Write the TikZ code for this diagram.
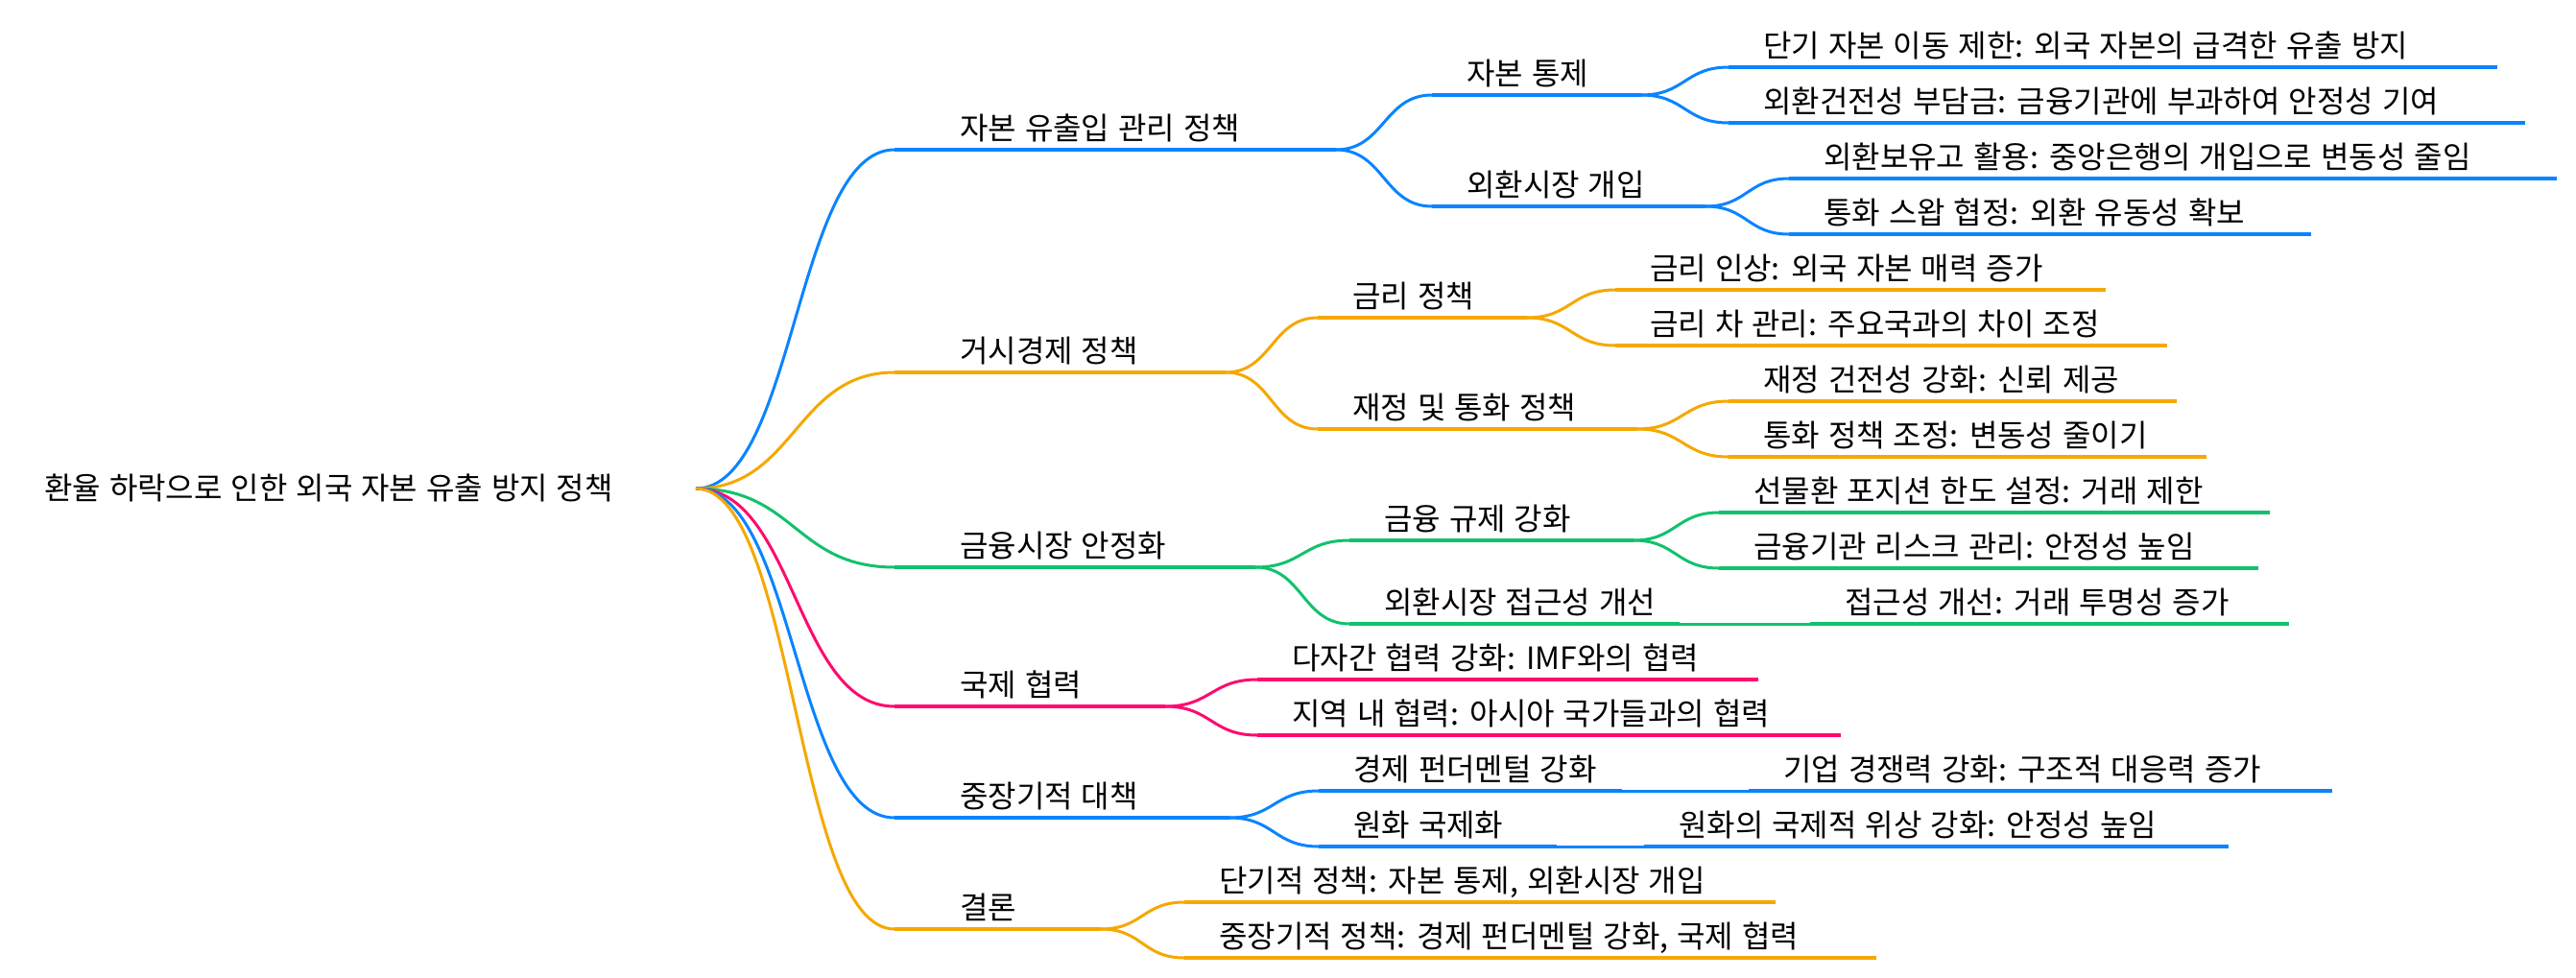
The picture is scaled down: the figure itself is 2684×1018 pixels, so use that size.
\documentclass[tikz,border=0pt]{standalone}
\usepackage{fontspec}
\setmainfont[WordSpace=1.25]{Noto Sans CJK KR}
\usetikzlibrary{calc}
\definecolor{cblue}{HTML}{0A84FF}
\definecolor{corange}{HTML}{F5A800}
\definecolor{cgreen}{HTML}{12C16D}
\definecolor{cpink}{HTML}{FF0A6E}
\tikzset{
  lbl/.style={anchor=base west, inner sep=0pt, font=\fontsize{32}{38}\selectfont, text=black},
  ul/.style={line width=3.2pt},
  lnk/.style={line width=3.0pt},
}
\newcommand\mmnode[7]{%
  \coordinate (#1-s) at (#3,#6);
  \coordinate (#1-e) at (#5,#6);
  \node[lbl] (#1) at (#4,#6-11) {#7};
  \draw[ul,#2] (#1-s) -- (#1-e);
}
\newcommand\mmlink[3]{%
  \draw[lnk,#1] let \p1=(#2-e), \p2=(#3-s) in (\p1) .. controls ({(\x1+\x2)/2},\y1) and ({(\x1+\x2)/2},\y2) .. (\p2);
}
\begin{document}
\begin{tikzpicture}[x=1pt,y=-1pt]
\useasboundingbox (0,0) rectangle (2684,1018);
\fill[white] (0,0) rectangle (2684,1018);
% root
\node[lbl] (root) at (46,520) {환율 하락으로 인한 외국 자본 유출 방지 정책};
\coordinate (root-e) at (725,509);
% A
\mmnode{a}{cblue}{932}{1000}{1392}{156}{자본 유출입 관리 정책}
\mmnode{a1}{cblue}{1492}{1528}{1710}{99}{자본 통제}
\mmnode{a2}{cblue}{1492}{1528}{1777}{215}{외환시장 개입}
\mmnode{a11}{cblue}{1801}{1837}{2602}{70}{단기 자본 이동 제한: 외국 자본의 급격한 유출 방지}
\mmnode{a12}{cblue}{1801}{1837}{2631}{128}{외환건전성 부담금: 금융기관에 부과하여 안정성 기여}
\mmnode{a21}{cblue}{1864}{1900}{2664}{186}{외환보유고 활용: 중앙은행의 개입으로 변동성 줄임}
\mmnode{a22}{cblue}{1864}{1900}{2408}{244}{통화 스왑 협정: 외환 유동성 확보}
% B
\mmnode{b}{corange}{932}{1000}{1277}{388}{거시경제 정책}
\mmnode{b1}{corange}{1373}{1409}{1591}{331}{금리 정책}
\mmnode{b2}{corange}{1373}{1409}{1706}{447}{재정 및 통화 정책}
\mmnode{b11}{corange}{1683}{1719}{2194}{302}{금리 인상: 외국 자본 매력 증가}
\mmnode{b12}{corange}{1683}{1719}{2258}{360}{금리 차 관리: 주요국과의 차이 조정}
\mmnode{b21}{corange}{1801}{1837}{2268}{418}{재정 건전성 강화: 신뢰 제공}
\mmnode{b22}{corange}{1801}{1837}{2299}{476}{통화 정책 조정: 변동성 줄이기}
% C
\mmnode{c}{cgreen}{932}{1000}{1308}{591}{금융시장 안정화}
\mmnode{c1}{cgreen}{1406}{1442}{1702}{563}{금융 규제 강화}
\mmnode{c2}{cgreen}{1406}{1442}{1750}{650}{외환시장 접근성 개선}
\mmnode{c11}{cgreen}{1791}{1827}{2365}{534}{선물환 포지션 한도 설정: 거래 제한}
\mmnode{c12}{cgreen}{1791}{1827}{2353}{592}{금융기관 리스크 관리: 안정성 높임}
\mmnode{c21}{cgreen}{1886}{1922}{2385}{650}{접근성 개선: 거래 투명성 증가}
% D
\mmnode{d}{cpink}{932}{1000}{1214}{736}{국제 협력}
\mmnode{d1}{cpink}{1310}{1346}{1832}{708}{다자간 협력 강화: IMF와의 협력}
\mmnode{d2}{cpink}{1310}{1346}{1918}{766}{지역 내 협력: 아시아 국가들과의 협력}
% E
\mmnode{e}{cblue}{932}{1000}{1281}{852}{중장기적 대책}
\mmnode{e1}{cblue}{1374}{1410}{1690}{824}{경제 펀더멘털 강화}
\mmnode{e2}{cblue}{1374}{1410}{1622}{882}{원화 국제화}
\mmnode{e11}{cblue}{1822}{1858}{2430}{824}{기업 경쟁력 강화: 구조적 대응력 증가}
\mmnode{e21}{cblue}{1713}{1749}{2322}{882}{원화의 국제적 위상 강화: 안정성 높임}
% F
\mmnode{f}{corange}{932}{1000}{1147}{968}{결론}
\mmnode{f1}{corange}{1234}{1270}{1850}{940}{단기적 정책: 자본 통제, 외환시장 개입}
\mmnode{f2}{corange}{1234}{1270}{1955}{998}{중장기적 정책: 경제 펀더멘털 강화, 국제 협력}
% links
\mmlink{cblue}{root}{a}
\mmlink{corange}{root}{b}
\mmlink{cgreen}{root}{c}
\mmlink{cpink}{root}{d}
\mmlink{cblue}{root}{e}
\mmlink{corange}{root}{f}
\mmlink{cblue}{a}{a1}
\mmlink{cblue}{a}{a2}
\mmlink{cblue}{a1}{a11}
\mmlink{cblue}{a1}{a12}
\mmlink{cblue}{a2}{a21}
\mmlink{cblue}{a2}{a22}
\mmlink{corange}{b}{b1}
\mmlink{corange}{b}{b2}
\mmlink{corange}{b1}{b11}
\mmlink{corange}{b1}{b12}
\mmlink{corange}{b2}{b21}
\mmlink{corange}{b2}{b22}
\mmlink{cgreen}{c}{c1}
\mmlink{cgreen}{c}{c2}
\mmlink{cgreen}{c1}{c11}
\mmlink{cgreen}{c1}{c12}
\mmlink{cgreen}{c2}{c21}
\mmlink{cpink}{d}{d1}
\mmlink{cpink}{d}{d2}
\mmlink{cblue}{e}{e1}
\mmlink{cblue}{e}{e2}
\mmlink{cblue}{e1}{e11}
\mmlink{cblue}{e2}{e21}
\mmlink{corange}{f}{f1}
\mmlink{corange}{f}{f2}
\end{tikzpicture}
\end{document}
